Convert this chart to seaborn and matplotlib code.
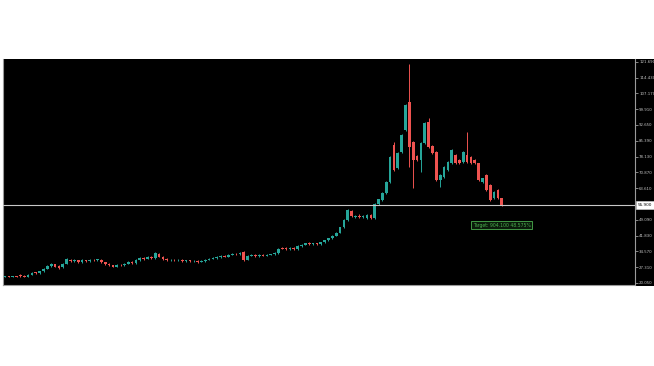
import matplotlib
matplotlib.use("Agg")
import matplotlib.pyplot as plt
from matplotlib.patches import Rectangle
import numpy as np
import pandas as pd
import seaborn as sns

# ---------------- data ----------------
opens = [22.8, 23.0, 22.9, 23.1, 23.6, 23.4, 23.0, 23.8, 25.0, 24.6,
         25.4, 26.6, 27.8, 28.6, 27.8, 27.2, 29.0, 30.8, 30.0, 30.4,
         29.8, 30.5, 30.1, 30.8, 30.4, 30.5, 29.6, 29.0, 28.2, 27.6,
         28.4, 28.2, 29.0, 29.7, 29.3, 30.6, 31.6, 31.2, 32.0, 31.6,
         33.6, 32.2, 31.2, 30.5, 30.8, 30.4, 30.6, 30.2, 30.5, 30.0,
         30.3, 29.8, 30.1, 30.7, 31.2, 31.6, 32.0, 32.6, 32.2, 33.0,
         33.6, 33.2, 34.3, 30.8, 32.6, 32.9, 32.5, 32.9, 32.6, 33.0,
         33.3, 33.8, 36.3, 36.2, 35.6, 36.2, 35.7, 37.0, 37.6, 38.4,
         37.8, 38.3, 37.9, 38.8, 39.6, 40.6, 41.8, 43.2, 45.6, 49.0,
         53.2, 50.4, 50.9, 50.3, 49.9, 51.3, 49.9, 56.3, 58.2, 61.2,
         66.6, 83.4, 72.9, 80.2, 90.3, 103.3, 85.0, 78.4, 76.6, 84.2,
         94.2, 83.0, 80.4, 67.4, 68.9, 72.0, 75.0, 78.9, 76.6, 75.8,
         78.9, 78.1, 76.6, 75.0, 66.6, 69.7, 65.1, 58.9, 62.8, 58.9]
closes = [23.0, 22.9, 23.1, 22.9, 23.2, 23.0, 23.8, 24.6, 24.6, 25.4,
          26.6, 27.8, 29.0, 27.6, 27.0, 29.0, 31.0, 30.0, 30.6, 29.8,
          30.5, 30.1, 30.8, 30.4, 30.9, 29.6, 28.9, 28.2, 27.6, 28.4,
          28.2, 29.0, 29.7, 29.3, 30.6, 31.6, 31.2, 32.0, 31.6, 33.8,
          32.2, 31.0, 30.5, 30.8, 30.4, 30.6, 30.2, 30.5, 30.0, 30.3,
          29.8, 30.1, 30.7, 31.2, 31.6, 32.0, 32.4, 32.2, 33.0, 33.6,
          33.2, 33.9, 30.8, 32.6, 32.9, 32.5, 32.9, 32.6, 33.0, 33.3,
          33.8, 35.8, 35.8, 35.6, 36.2, 35.7, 37.0, 37.6, 38.2, 37.8,
          38.3, 37.9, 38.8, 39.6, 40.6, 41.8, 43.2, 45.6, 49.0, 53.4,
          50.6, 50.9, 50.3, 50.8, 51.3, 50.0, 56.5, 58.5, 61.5, 66.6,
          78.1, 72.0, 79.8, 88.0, 101.8, 82.7, 76.6, 76.6, 84.2, 93.4,
          82.7, 79.6, 67.4, 69.7, 73.5, 75.8, 81.1, 75.0, 75.0, 80.4,
          75.8, 75.0, 75.0, 67.4, 68.1, 62.8, 58.2, 62.0, 58.9, 55.9]
highs = [23.3, 23.3, 23.4, 23.4, 24.0, 23.8, 24.1, 25.0, 25.3, 25.7,
         27.0, 28.2, 29.4, 29.0, 28.1, 29.4, 31.5, 31.1, 31.0, 30.8,
         30.9, 30.8, 31.2, 31.1, 31.3, 30.9, 29.9, 29.3, 28.5, 28.7,
         28.7, 29.3, 30.0, 30.0, 30.9, 32.0, 31.9, 32.3, 32.3, 34.3,
         34.0, 32.5, 31.5, 31.1, 31.1, 30.9, 30.9, 30.8, 30.8, 30.6,
         30.6, 30.4, 31.0, 31.5, 31.9, 32.3, 32.7, 32.9, 33.3, 33.9,
         33.9, 34.2, 34.7, 32.9, 33.2, 33.2, 33.2, 33.2, 33.3, 33.6,
         34.1, 36.1, 36.6, 36.5, 36.5, 36.5, 37.3, 37.9, 38.5, 38.7,
         38.6, 38.6, 39.1, 39.9, 40.9, 42.1, 43.5, 45.9, 49.3, 54.0,
         53.6, 51.5, 51.6, 51.2, 51.6, 51.8, 56.8, 58.8, 61.9, 67.0,
         78.5, 84.6, 80.3, 88.4, 102.3, 120.6, 85.5, 79.0, 84.6, 93.8,
         95.8, 83.4, 80.8, 70.1, 73.9, 76.2, 81.5, 79.3, 77.0, 80.8,
         89.6, 78.5, 77.0, 75.4, 68.5, 70.1, 65.5, 62.4, 63.2, 59.3]
lows = [22.6, 22.6, 22.6, 22.6, 22.9, 22.7, 22.7, 23.5, 24.3, 24.3,
        25.1, 26.3, 27.5, 27.2, 26.6, 26.9, 28.7, 29.6, 29.6, 29.4,
        29.4, 29.7, 29.7, 30.0, 30.0, 29.2, 28.5, 27.8, 27.2, 27.3,
        27.8, 27.9, 28.7, 28.9, 29.0, 30.3, 30.8, 30.9, 31.2, 31.3,
        31.8, 30.7, 30.1, 30.1, 30.0, 30.1, 29.9, 29.9, 29.6, 29.7,
        29.4, 29.5, 29.8, 30.4, 30.9, 31.3, 31.7, 31.9, 31.9, 32.7,
        32.9, 32.9, 30.3, 30.5, 32.3, 32.2, 32.2, 32.3, 32.3, 32.7,
        33.0, 33.5, 35.5, 35.3, 35.3, 35.4, 35.4, 36.7, 37.3, 37.5,
        37.5, 37.6, 37.6, 38.5, 39.3, 40.3, 41.5, 42.9, 45.3, 48.6,
        50.2, 50.0, 49.9, 49.9, 49.5, 49.6, 49.5, 55.9, 57.8, 60.8,
        66.2, 71.5, 72.5, 79.8, 89.9, 73.5, 63.6, 76.0, 71.2, 83.8,
        82.2, 79.2, 67.0, 64.3, 68.5, 71.6, 74.6, 74.6, 74.6, 75.4,
        75.4, 74.6, 74.6, 67.0, 66.2, 62.4, 57.8, 58.5, 58.5, 55.4]

ytick_values = [20.050, 27.310, 34.570, 41.830, 49.090, 63.610, 70.870,
                78.130, 85.390, 92.650, 99.910, 107.170, 114.430, 121.690]
current_price = 55.9
target_text = "Target: 904.100 48.575%"

# ---------------- style ----------------
sns.set_theme(style="dark", rc={"axes.facecolor": "black",
                                 "figure.facecolor": "white"})
plt.rcParams['font.family'] = ['DejaVu Sans']

UP = "#26a69a"
DOWN = "#ef5350"

df = pd.DataFrame({"open": opens, "close": closes, "high": highs, "low": lows})
df["idx"] = np.arange(len(df))
df["up"] = df["close"] >= df["open"]
df["color"] = np.where(df["up"], UP, DOWN)
df["bottom"] = df[["open", "close"]].min(axis=1)
df["height"] = (df["close"] - df["open"]).abs().clip(lower=0.3)

W, H = 654, 366
fig = plt.figure(figsize=(W / 100, H / 100), dpi=100)
fig.add_artist(Rectangle((3 / W, 1 - 286 / H), (W - 3) / W, (286 - 59) / H,
                         transform=fig.transFigure, facecolor="black",
                         edgecolor="none", zorder=0))
ax = fig.add_axes([3 / W, 1 - 285 / H, (635 - 3) / W, (285 - 59) / H])
ax.set_facecolor("black")

# wicks
ax.vlines(df["idx"], df["low"], df["high"], colors=df["color"], lw=0.7, zorder=2)
# bodies
ax.bar(df["idx"], df["height"], bottom=df["bottom"], width=0.7,
       color=df["color"], edgecolor="none", zorder=3)

# current price line
ax.axhline(current_price, color="#c8c8c8", lw=0.8, zorder=4)

ax.set_xlim(-0.53, 163.6)
ax.set_ylim(19.13, 122.95)

# axes styling
ax.grid(False)
ax.spines["top"].set_visible(False)
for s in ["left", "right", "bottom"]:
    ax.spines[s].set_visible(True)
    ax.spines[s].set_color("#9a9a9a")
    ax.spines[s].set_linewidth(0.8)

ax.yaxis.tick_right()
ax.set_yticks(ytick_values)
ax.set_yticklabels([f"{v:.3f}" for v in ytick_values])
ax.tick_params(axis="y", which="both", direction="out", length=2, width=0.6,
               colors="#9a9a9a", labelcolor="#c4c4c4", labelsize=2.8, pad=1,
               left=False, right=True)
ax.set_xticks(np.arange(7, 128, 8))
ax.set_xticklabels([])
ax.tick_params(axis="x", direction="out", length=2, width=0.6, colors="#9a9a9a")

# current price label
ax.text(1.004, current_price, f"{current_price:.3f}",
        transform=ax.get_yaxis_transform(), ha="left", va="center",
        fontsize=3.0, color="black",
        bbox=dict(boxstyle="square,pad=0.4", facecolor="white",
                  edgecolor="#dddddd", lw=0.4), zorder=6, clip_on=False)

# target label
ax.text(129, 46.6, target_text, ha="center", va="center", fontsize=3.3,
        color="#4caf50",
        bbox=dict(boxstyle="square,pad=0.35", facecolor="#0a1a0a",
                  edgecolor="#4caf50", lw=0.6), zorder=6)

fig.savefig("out.png", dpi=100, facecolor="white")
